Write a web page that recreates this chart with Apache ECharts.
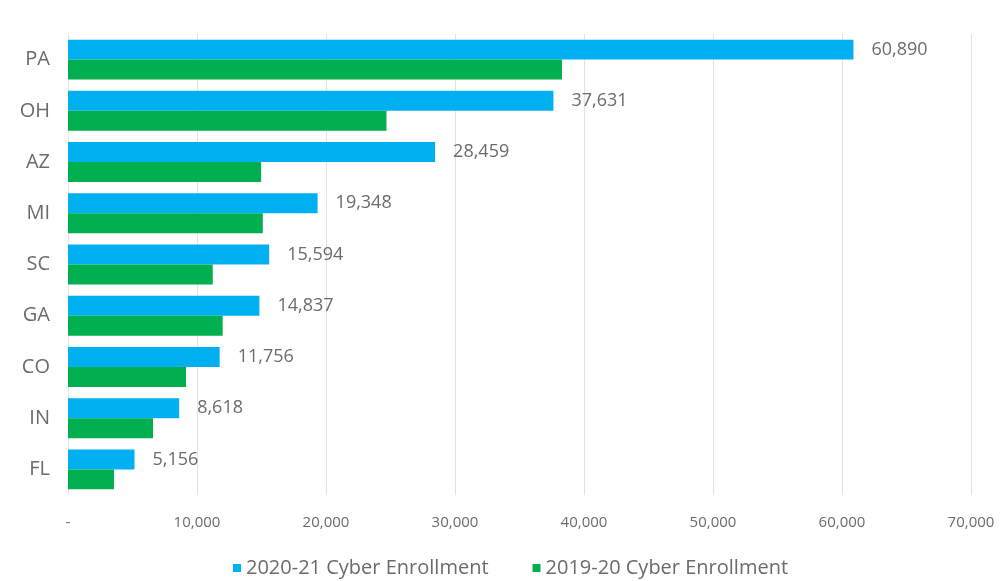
<!DOCTYPE html>
<html>
<head>
<meta charset="utf-8">
<script src="https://cdn.jsdelivr.net/npm/echarts@6/dist/echarts.min.js"></script>
<style>html,body{margin:0;padding:0;background:#fff;}#c{width:1004px;height:581px;}</style>
</head>
<body>
<div id="c"></div>
<script>
var categories = ['PA','OH','AZ','MI','SC','GA','CO','IN','FL'];
var enroll2021 = [60890, 37631, 28459, 19348, 15594, 14837, 11756, 8618, 5156];
var enroll1920 = [38290, 24690, 14970, 15100, 11220, 11990, 9150, 6590, 3570];
var seriesNames = ['2020-21 Cyber Enrollment', '2019-20 Cyber Enrollment'];
var xTicks = { min: 0, max: 70000, interval: 10000 };

var font = 'Open Sans';
var chart = echarts.init(document.getElementById('c'));
chart.setOption({
  animation: false,
  backgroundColor: '#ffffff',
  grid: { left: 68, right: 33, top: 34, bottom: 86, containLabel: false },
  legend: {
    bottom: -2, left: 228,
    itemWidth: 8, itemHeight: 8, itemGap: 44,
    icon: 'rect',
    textStyle: { color: '#6b6b6b', fontSize: 20, fontFamily: font },
    data: seriesNames
  },
  xAxis: {
    type: 'value', min: xTicks.min, max: xTicks.max, interval: xTicks.interval,
    axisLine: { show: false }, axisTick: { show: false },
    splitLine: { show: true, lineStyle: { color: '#e3e3e3', width: 1 } },
    axisLabel: {
      color: '#6b6b6b', fontSize: 15, fontFamily: font, margin: 20,
      formatter: function (v) { return v === 0 ? '-' : v.toLocaleString('en-US'); }
    }
  },
  yAxis: {
    type: 'category', data: categories, inverse: true,
    axisLine: { show: false }, axisTick: { show: false },
    axisLabel: { color: '#6b6b6b', fontSize: 20, fontFamily: font, margin: 18 }
  },
  series: [
    {
      name: seriesNames[0], type: 'bar', data: enroll2021,
      barGap: '0%', barCategoryGap: '22%',
      itemStyle: { color: '#00B0F0' },
      label: {
        show: true, position: 'right', distance: 18,
        color: '#6b6b6b', fontSize: 18, fontFamily: font,
        formatter: function (p) { return p.value.toLocaleString('en-US'); }
      }
    },
    {
      name: seriesNames[1], type: 'bar', data: enroll1920,
      barGap: '0%', barCategoryGap: '22%',
      itemStyle: { color: '#00B050' }
    }
  ]
});
</script>
</body>
</html>
